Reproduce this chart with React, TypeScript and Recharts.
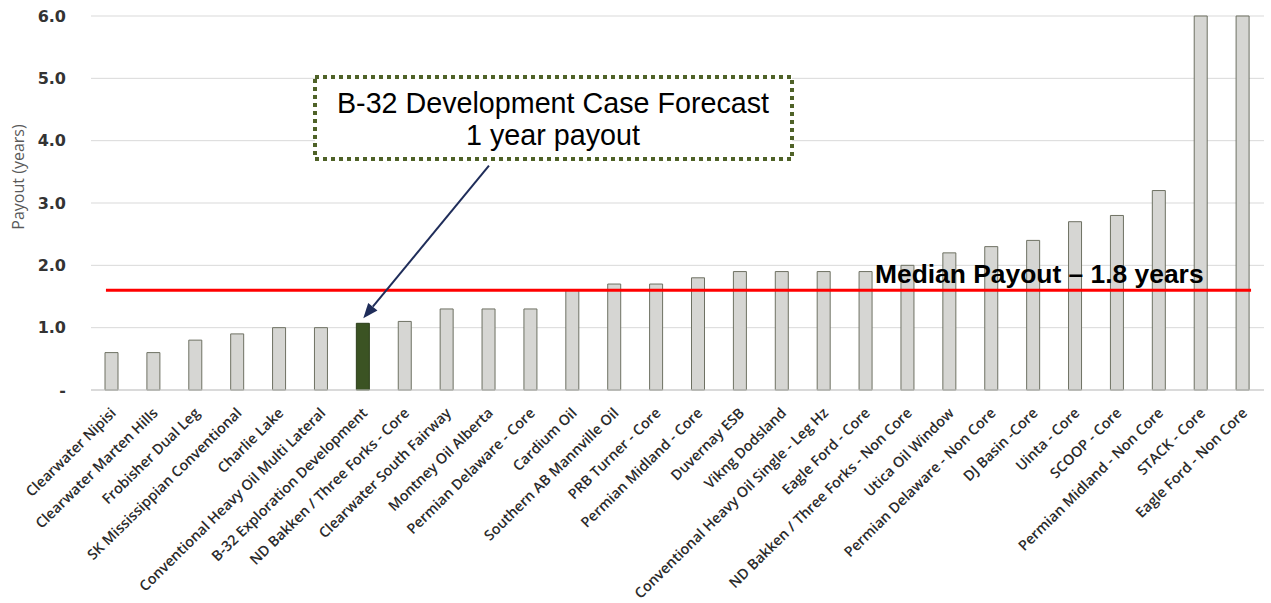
import { Bar, BarChart, CartesianGrid, Cell, ReferenceLine, XAxis, YAxis } from "recharts"

const categories = [
  "Clearwater Nipisi",
  "Clearwater Marten Hills",
  "Frobisher Dual Leg",
  "SK Mississippian Conventional",
  "Charlie Lake",
  "Conventional Heavy Oil Multi Lateral",
  "B-32 Exploration Development",
  "ND Bakken / Three Forks - Core",
  "Clearwater South Fairway",
  "Montney Oil Alberta",
  "Permian Delaware - Core",
  "Cardium Oil",
  "Southern AB Mannville Oil",
  "PRB Turner - Core",
  "Permian Midland - Core",
  "Duvernay ESB",
  "Vikng Dodsland",
  "Conventional Heavy Oil Single - Leg Hz",
  "Eagle Ford - Core",
  "ND Bakken / Three Forks - Non Core",
  "Utica Oil Window",
  "Permian Delaware - Non Core",
  "DJ Basin -Core",
  "Uinta - Core",
  "SCOOP - Core",
  "Permian Midland - Non Core",
  "STACK - Core",
  "Eagle Ford - Non Core",
]

const payoutYears = [
  0.6, 0.6, 0.8, 0.9, 1.0, 1.0, 1.07, 1.1, 1.3, 1.3, 1.3, 1.6, 1.7, 1.7, 1.8,
  1.9, 1.9, 1.9, 1.9, 2.0, 2.2, 2.3, 2.4, 2.7, 2.8, 3.2, 6.0, 6.0,
]

const yTicks = [0, 1, 2, 3, 4, 5, 6]

const highlighted = "B-32 Exploration Development"
const medianLine = 1.6
const medianText = "Median Payout – 1.8 years"
const calloutLines = ["B-32 Development Case Forecast", "1 year payout"]
const arrowFrom = { x: "Montney Oil Alberta", y: 3.6 }
const arrowTo = { x: highlighted, y: 1.15 }

const data = categories.map((name, i) => ({ name, payout: payoutYears[i] }))

function XTick({ x, y, payload }: any) {
  return (
    <g transform={`translate(${x + 5},${y + 16})`}>
      <text
        x={0}
        y={0}
        textAnchor="end"
        transform="rotate(-44.5)"
        fontFamily="'Open Sans', sans-serif"
        fontWeight={600}
        fontSize={14.4}
        fill="#2b2b2b"
      >
        {payload.value}
      </text>
    </g>
  )
}

function Arrow({ x1, y1, x2, y2 }: any) {
  const a = Math.atan2(y2 - y1, x2 - x1)
  const len = 15
  const half = 6
  const bx = x2 - len * Math.cos(a)
  const by = y2 - len * Math.sin(a)
  const px = -Math.sin(a) * half
  const py = Math.cos(a) * half
  return (
    <g>
      <line x1={x1} y1={y1} x2={bx} y2={by} stroke="#1f2d5a" strokeWidth={2} />
      <polygon
        points={`${x2},${y2} ${bx + px},${by + py} ${bx - px},${by - py}`}
        fill="#1f2d5a"
      />
    </g>
  )
}

function MedianShape({ x1, y1, x2, y2 }: any) {
  return (
    <line x1={x1 - 6} y1={y1} x2={x2 + 8} y2={y2} stroke="#ff0000" strokeWidth={3} />
  )
}

export default function App() {
  return (
    <div
      style={{
        position: "absolute",
        left: 0,
        top: 0,
        width: 1271,
        height: 603,
        background: "#fff",
      }}
    >
      <BarChart
        width={1271}
        height={603}
        data={data}
        margin={{ top: 16, right: 7, bottom: 0, left: 0 }}
      >
        <CartesianGrid stroke="#d9d9d9" vertical={false} />
        <XAxis
          dataKey="name"
          interval={0}
          height={213}
          tickLine={false}
          axisLine={{ stroke: "#c8c8c8" }}
          tick={<XTick />}
        />
        <YAxis
          width={91}
          domain={[0, 6]}
          ticks={yTicks}
          tickLine={false}
          axisLine={false}
          tickSize={6}
          tickMargin={19}
          tickFormatter={(v: number) => (v === 0 ? "-" : v.toFixed(1))}
          tick={{
            fontFamily: "'DejaVu Sans', sans-serif",
            fontWeight: 700,
            fontSize: 16,
            fill: "#333",
          }}
          label={{
            content: ({ viewBox }: any) => {
              const cx = 24
              const cy = viewBox.y + viewBox.height / 2 - 26
              return (
                <text
                  x={cx}
                  y={cy}
                  textAnchor="middle"
                  transform={`rotate(-90 ${cx} ${cy})`}
                  fontFamily="'Open Sans', sans-serif"
                  fontSize={16}
                  fill="#595959"
                >
                  Payout (years)
                </text>
              )
            },
          }}
        />
        <Bar
          dataKey="payout"
          barSize={13}
          fill="#d6d6d3"
          stroke="#6e7163"
          strokeWidth={1}
          isAnimationActive={false}
        >
          {data.map((d) => (
            <Cell
              key={d.name}
              fill={d.name === highlighted ? "#3b5323" : "#d6d6d3"}
              stroke={d.name === highlighted ? "#2c3e1a" : "#6e7163"}
            />
          ))}
        </Bar>
        <ReferenceLine
          segment={[
            { x: categories[0], y: medianLine },
            { x: categories[categories.length - 1], y: medianLine },
          ]}
          shape={<MedianShape />}
        />
        <ReferenceLine segment={[arrowFrom, arrowTo]} shape={<Arrow />} />
      </BarChart>

      <svg
        width={1271}
        height={603}
        style={{ position: "absolute", left: 0, top: 0, pointerEvents: "none" }}
      >
        <rect
          x={315}
          y={77}
          width={477}
          height={82}
          fill="#fff"
          stroke="#4f6228"
          strokeWidth={4}
          strokeDasharray="4 4"
        />
        <text
          x={553}
          y={113}
          textAnchor="middle"
          fontFamily="'Liberation Sans', Arial, sans-serif"
          fontSize={28.7}
          fill="#000"
        >
          {calloutLines[0]}
        </text>
        <text
          x={553}
          y={145}
          textAnchor="middle"
          fontFamily="'Liberation Sans', Arial, sans-serif"
          fontSize={28.7}
          fill="#000"
        >
          {calloutLines[1]}
        </text>
        <text
          x={875}
          y={283}
          fontFamily="'Liberation Sans', Arial, sans-serif"
          fontWeight={700}
          fontSize={26.4}
          fill="#000"
        >
          {medianText}
        </text>
      </svg>
    </div>
  )
}
